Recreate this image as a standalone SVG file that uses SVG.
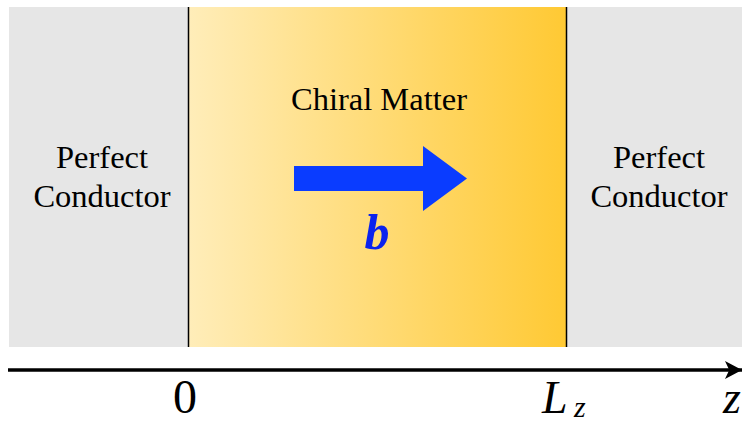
<svg xmlns="http://www.w3.org/2000/svg" width="742" height="424" viewBox="0 0 742 424">
<defs>
<linearGradient id="yg" x1="0" y1="0" x2="1" y2="0">
<stop offset="0" stop-color="#FFEDB9"/>
<stop offset="1" stop-color="#FFC933"/>
</linearGradient>
<marker id="ah" viewBox="0 0 10 10" refX="10" refY="5" markerWidth="17" markerHeight="18" markerUnits="userSpaceOnUse" orient="auto" preserveAspectRatio="none">
<path d="M0,0 L10,5 L0,10 L2.5,5 z" fill="#000"/>
</marker>
<style>
text{font-family:'Liberation Serif','Times New Roman',Times,serif}
.lbl{font-size:32.5px;fill:#000;text-anchor:middle}
.math{fill:#000}
</style>
</defs>
<rect width="742" height="424" fill="#fff"/>
<g id="left">
<rect x="9" y="7" width="180" height="340" fill="#E6E6E6"/>
<text class="lbl" x="102" y="168">Perfect</text>
<text class="lbl" x="102" y="207">Conductor</text>
</g>
<g id="chiral">
<rect x="189" y="7" width="378" height="340" fill="url(#yg)"/>
<text class="lbl" x="379" y="110">Chiral Matter</text>
</g>
<g id="right">
<rect x="567" y="7" width="175" height="340" fill="#E6E6E6"/>
<text class="lbl" x="659" y="168">Perfect</text>
<text class="lbl" x="659" y="207">Conductor</text>
</g>
<g id="b-vector">
<polygon points="294,166 423,166 423,146 467,178.5 423,211 423,191 294,191" fill="#0A3CFF"/>
<text x="377" y="249" font-size="50" font-weight="bold" font-style="italic" fill="#0A22EE" text-anchor="middle">b</text>
</g>
<g id="connectors">
<line x1="188.5" y1="7" x2="188.5" y2="347" stroke="#000" stroke-width="1.5"/>
<line x1="566.5" y1="7" x2="566.5" y2="347" stroke="#000" stroke-width="1.5"/>
<line x1="8" y1="370" x2="742" y2="370" stroke="#000" stroke-width="3.5" marker-end="url(#ah)"/>
</g>
<g id="axis-labels">
<text class="math" x="185" y="413" font-size="48" text-anchor="middle">0</text>
<text class="math" x="542" y="413" font-size="46" font-style="italic">L</text>
<text class="math" x="574" y="417" font-size="30" font-style="italic">z</text>
<text class="math" x="723" y="413" font-size="46" font-style="italic">z</text>
</g>
</svg>
